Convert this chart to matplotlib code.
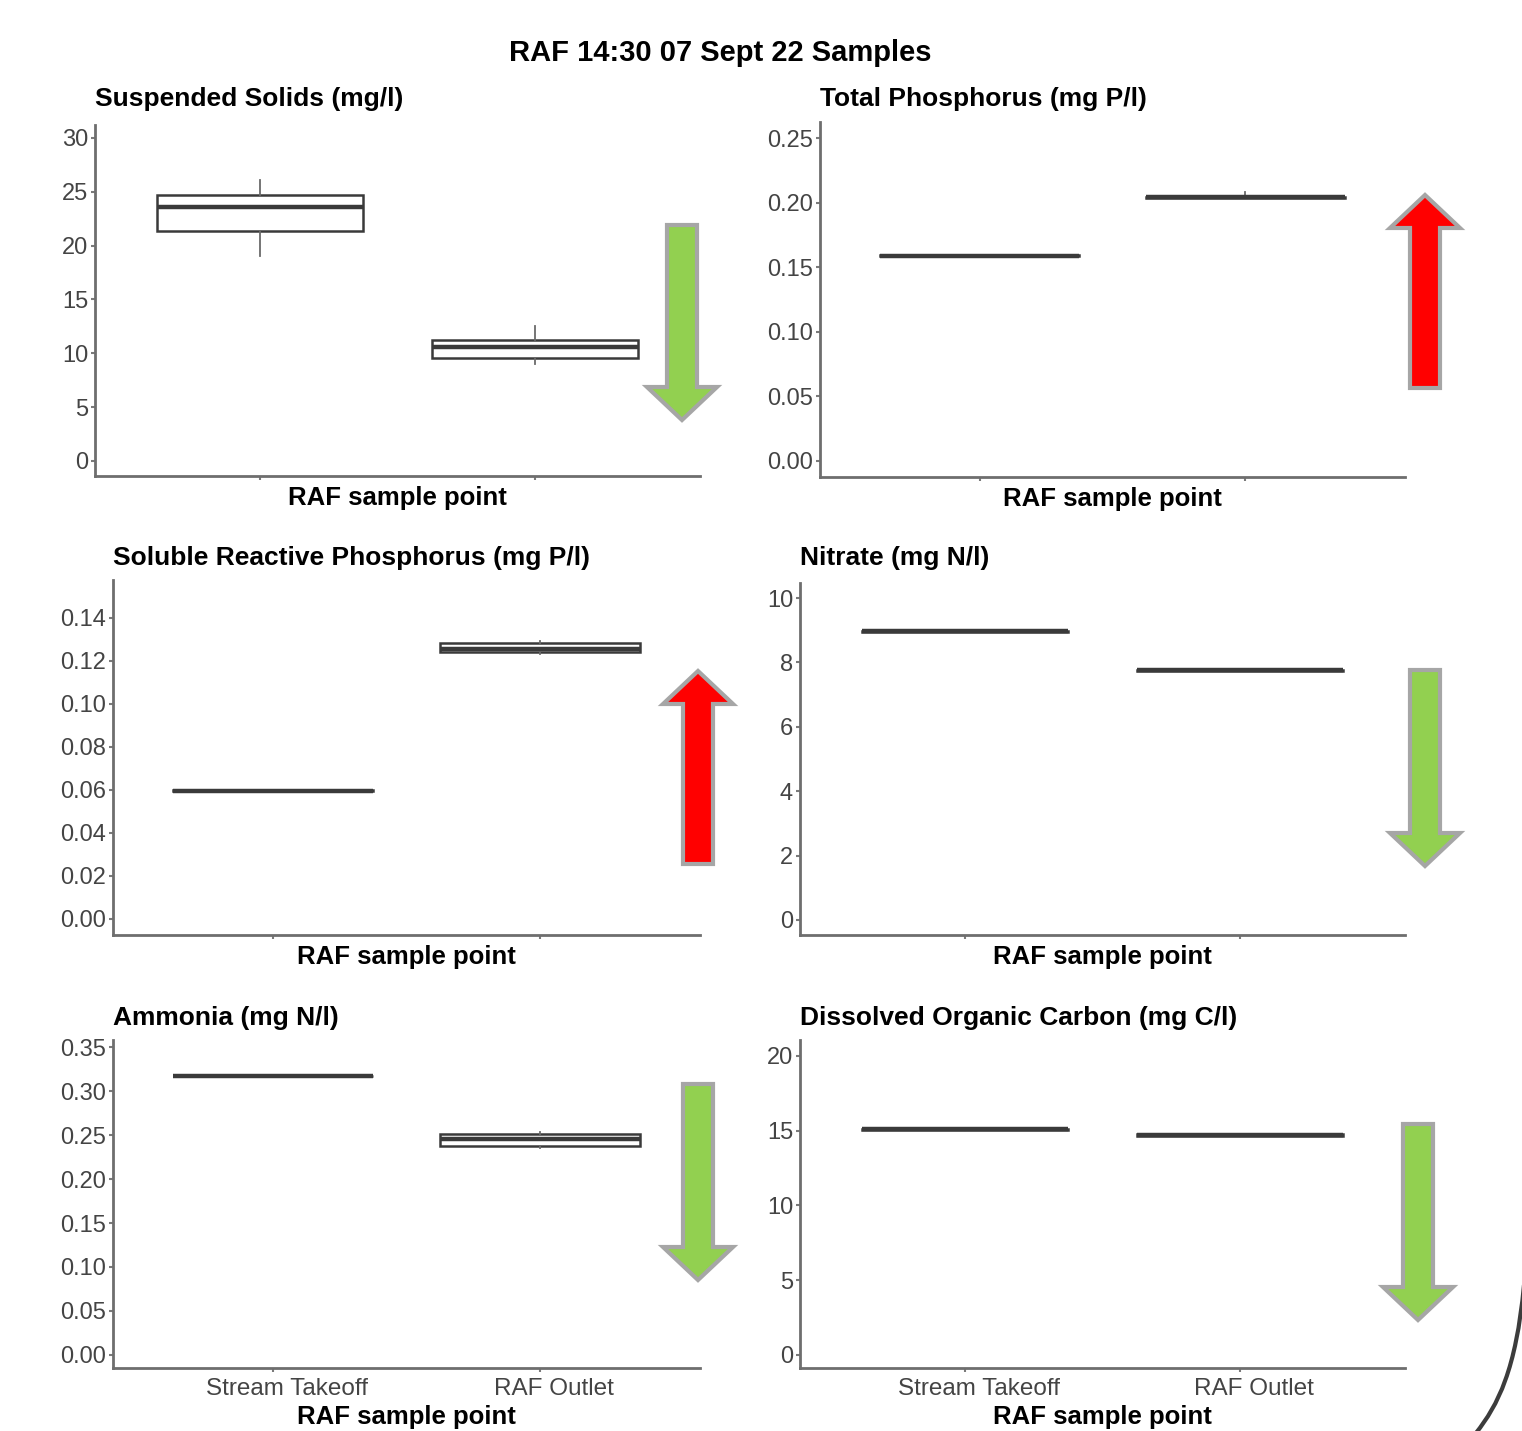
import numpy as np
import matplotlib.pyplot as plt
import matplotlib.transforms as mtransforms
from matplotlib.patches import Polygon, PathPatch
from matplotlib.path import Path
from matplotlib.ticker import FormatStrFormatter

plt.rcParams['font.family'] = ['Liberation Sans', 'DejaVu Sans']

W, H = 1522, 1431

sites = ['Stream Takeoff', 'RAF Outlet']
titles = ['Suspended Solids (mg/l)', 'Total Phosphorus (mg P/l)',
          'Soluble Reactive Phosphorus (mg P/l)', 'Nitrate (mg N/l)',
          'Ammonia (mg N/l)', 'Dissolved Organic Carbon (mg C/l)']

# box stats per site: whisker low, q1, median, q3, whisker high
ss = [(19.0, 21.4, 23.6, 24.7, 26.1), (9.0, 9.6, 10.6, 11.2, 12.5)]
tp = [(0.1585, 0.1588, 0.159, 0.1594, 0.1597), (0.2035, 0.2038, 0.2042, 0.2046, 0.208)]
srp = [(0.0592, 0.0593, 0.0595, 0.0597, 0.0598), (0.123, 0.124, 0.1256, 0.128, 0.129)]
nitrate = [(8.95, 8.96, 8.97, 8.98, 8.99), (7.73, 7.74, 7.76, 7.78, 7.79)]
ammonia = [(0.3165, 0.3168, 0.317, 0.3173, 0.3175), (0.235, 0.2375, 0.2455, 0.251, 0.253)]
doc = [(15.0, 15.05, 15.1, 15.15, 15.2), (14.6, 14.65, 14.7, 14.75, 14.8)]
all_stats = [ss, tp, srp, nitrate, ammonia, doc]

yticks = [np.arange(0, 31, 5), np.arange(0, 0.26, 0.05), np.arange(0, 0.141, 0.02),
          np.arange(0, 11, 2), np.arange(0, 0.351, 0.05), np.arange(0, 21, 5)]
yfmt = ['%d', '%.2f', '%.2f', '%d', '%.2f', '%d']
trend = ['down', 'up', 'up', 'down', 'down', 'down']

# layout (pixels): left, top, right, bottom of each panel
rects = [(95, 125, 700, 476), (820, 122, 1405, 477),
         (113, 580, 700, 935), (800, 583, 1405, 935),
         (113, 1040, 700, 1368), (800, 1040, 1405, 1368)]
ylims = [(-1.4, 31.2), (-0.0125, 0.2625), (-0.0075, 0.1575),
         (-0.47, 10.47), (-0.0148, 0.358), (-0.87, 21.07)]
title_y = [99, 99, 558, 558, 1018, 1018]
# arrow: centre x, tail y, tip y
arrows = [(682, 225, 420), (1425, 388, 195), (698, 864, 671),
          (1425, 670, 866), (698, 1084, 1280), (1418, 1124, 1320)]

fig = plt.figure(figsize=(W / 100, H / 100), dpi=100)


def fx(x):
    return x / W


def fy(y):
    return 1 - y / H


for i in range(6):
    l, t, r, b = rects[i]
    ax = fig.add_axes([fx(l), fy(b), fx(r) - fx(l), fy(t) - fy(b)])
    stats = []
    for s, lab in zip(all_stats[i], sites):
        stats.append(dict(whislo=s[0], q1=s[1], med=s[2], q3=s[3], whishi=s[4], label=lab))
    ax.bxp(stats, positions=[1, 2], widths=0.75, showcaps=False, showfliers=False,
           patch_artist=True,
           boxprops=dict(facecolor='white', edgecolor='#3a3a3a', linewidth=1.8),
           medianprops=dict(color='#3a3a3a', linewidth=3.2),
           whiskerprops=dict(color='#6a6a6a', linewidth=1.3))
    ax.set_xlim(0.4, 2.6)
    ax.set_ylim(*ylims[i])
    ax.set_yticks(yticks[i])
    ax.yaxis.set_major_formatter(FormatStrFormatter(yfmt[i]))
    for sp in ['top', 'right']:
        ax.spines[sp].set_visible(False)
    for sp in ['left', 'bottom']:
        ax.spines[sp].set_color('#6e6e6e')
        ax.spines[sp].set_linewidth(2)
    ax.tick_params(length=3, width=1.5, color='#7a7a7a', labelsize=17,
                   labelcolor='#444444', pad=2)
    ax.set_xticks([1, 2])
    if i >= 4:
        ax.set_xticklabels(sites, fontsize=17.5)
        ax.tick_params(axis='x', pad=4)
        shift = mtransforms.ScaledTranslation(14 / 100, 0, fig.dpi_scale_trans)
        for lab in ax.get_xticklabels():
            lab.set_transform(lab.get_transform() + shift)
        ax.set_xlabel('RAF sample point', fontsize=18.5, fontweight='bold', labelpad=4)
    else:
        ax.set_xticklabels(['', ''])
        ax.set_xlabel('RAF sample point', fontsize=18.5, fontweight='bold', labelpad=2)
    fig.text(fx(l), fy(title_y[i]), titles[i], fontsize=19, fontweight='bold',
             ha='left', va='center')

    # trend arrow
    xc, y0, y1 = arrows[i]
    col = '#92D050' if trend[i] == 'down' else '#FF0000'
    sgn = 1 if y1 > y0 else -1
    yb = y1 - sgn * 33
    sh, hd = 15, 35
    pts = [(xc - sh, y0), (xc + sh, y0), (xc + sh, yb), (xc + hd, yb),
           (xc, y1), (xc - hd, yb), (xc - sh, yb)]
    poly = Polygon([(fx(x), fy(y)) for x, y in pts], closed=True, facecolor=col,
                   edgecolor='#A6A6A6', linewidth=3, joinstyle='miter',
                   transform=fig.transFigure)
    fig.patches.append(poly)

fig.text(fx(720), fy(53), 'RAF 14:30 07 Sept 22 Samples', fontsize=21,
         fontweight='bold', ha='center', va='center')

# slide border curve at bottom right
verts = [(fx(1524), fy(1285)), (fx(1516), fy(1370)), (fx(1498), fy(1405)), (fx(1476), fy(1433))]
arc = PathPatch(Path(verts, [Path.MOVETO, Path.CURVE4, Path.CURVE4, Path.CURVE4]),
                facecolor='none', edgecolor='#3c3c3c', linewidth=3, transform=fig.transFigure)
fig.patches.append(arc)

plt.savefig('out.png', dpi=100)
